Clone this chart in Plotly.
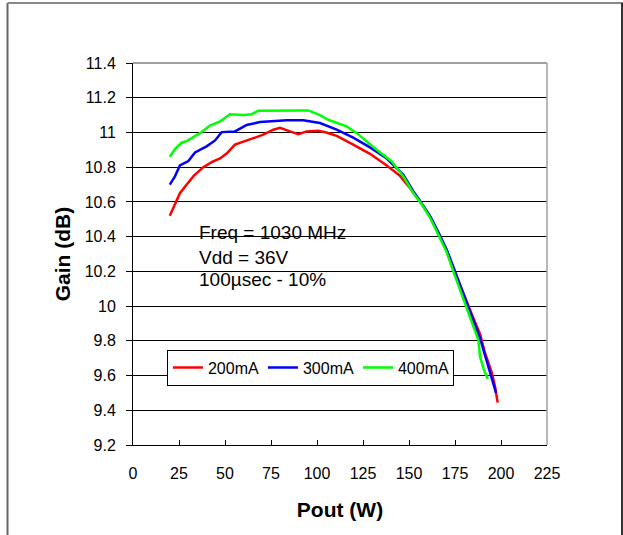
import plotly.graph_objects as go

# ---- data ----
pout_200 = [20, 25.5, 29.2, 33, 38.2, 43, 47.3, 51, 55.4, 61.8, 66, 70.8, 76.3, 79.9, 85.3, 89.9, 94.4,
            100.7, 105, 110.7, 119.7, 128.8, 137.9, 145.1, 150.5, 155.5, 161.4, 166, 170.5, 174.1,
            179.5, 185, 188.6, 191.3, 194.9, 196.7, 198.2]
gain_200 = [10.52, 10.65, 10.70, 10.75, 10.80, 10.83, 10.85, 10.88, 10.93, 10.954, 10.97, 10.987,
            11.016, 11.027, 11.006, 10.99, 11.006, 11.01, 11.0, 10.98, 10.93, 10.877, 10.81, 10.75,
            10.68, 10.61, 10.516, 10.42, 10.32, 10.218, 10.07, 9.93, 9.84, 9.73, 9.62, 9.54, 9.444]

pout_300 = [20, 22.8, 25.5, 30.1, 33.7, 40, 44.6, 48.2, 55.4, 61.8, 69, 78.1, 83.5, 92.5, 101.6,
            110.7, 119.7, 128.8, 137.9, 146.9, 152.4, 157, 161.4, 166, 170.5, 174.1, 179.5, 185,
            188.6, 191.5, 194.5, 197.3]
gain_300 = [10.70, 10.747, 10.81, 10.835, 10.885, 10.92, 10.954, 11.002, 11.006, 11.043, 11.06,
            11.066, 11.07, 11.07, 11.054, 11.016, 10.97, 10.914, 10.85, 10.756, 10.66, 10.59, 10.52,
            10.425, 10.325, 10.225, 10.075, 9.925, 9.815, 9.71, 9.6, 9.50]

pout_400 = [20, 22.8, 26.4, 29.2, 36.4, 41.8, 47.3, 52.7, 60, 64.5, 68.1, 78.1, 95.3, 101.6, 106.1,
            116.1, 121.6, 130.6, 140.6, 146.9, 152.4, 157, 161.4, 166, 170.5, 174.1, 179.5, 184,
            187.7, 188.6, 190.5, 192.8]
gain_400 = [10.86, 10.905, 10.942, 10.95, 10.996, 11.04, 11.063, 11.105, 11.10, 11.105, 11.125,
            11.127, 11.127, 11.10, 11.073, 11.035, 10.996, 10.916, 10.833, 10.747, 10.65, 10.585,
            10.51, 10.41, 10.31, 10.2, 10.04, 9.91, 9.805, 9.71, 9.64, 9.58]

series_names = ["200mA", "300mA", "400mA"]
series_colors = ["#ff0000", "#0000ff", "#00ff00"]

x_ticks = [0, 25, 50, 75, 100, 125, 150, 175, 200, 225]
y_ticks = [9.2, 9.4, 9.6, 9.8, 10.0, 10.2, 10.4, 10.6, 10.8, 11.0, 11.2, 11.4]
y_ticktext = ["9.2", "9.4", "9.6", "9.8", "10", "10.2", "10.4", "10.6", "10.8", "11", "11.2", "11.4"]

note_lines = ["Freq = 1030 MHz", "Vdd = 36V", "100µsec - 10%"]

FONT = "Liberation Sans, Arial, sans-serif"

# ---- figure ----
fig = go.Figure()
for xs, ys, name, col in zip([pout_200, pout_300, pout_400], [gain_200, gain_300, gain_400],
                             series_names, series_colors):
    fig.add_trace(go.Scatter(x=xs, y=ys, mode="lines", name=name,
                             line=dict(color=col, width=2.5)))

fig.update_layout(
    width=623, height=535,
    margin=dict(l=133, r=76, t=63, b=90),
    paper_bgcolor="white", plot_bgcolor="white",
    font=dict(family=FONT, color="black", size=16),
    showlegend=True,
    legend=dict(orientation="h", x=0.082, y=0.25, xanchor="left", yanchor="top",
                bgcolor="white", bordercolor="black", borderwidth=1,
                font=dict(size=16), itemwidth=30, tracegroupgap=0,
                entrywidth=50, entrywidthmode="pixels"),
)

fig.update_xaxes(range=[0, 225], tickvals=x_ticks, ticktext=[str(v) for v in x_ticks],
                 showgrid=False, zeroline=False, showline=True, linecolor="black", linewidth=1,
                 ticks="inside", ticklen=5, tickcolor="black", ticklabelstandoff=14,
                 tickfont=dict(size=16),
                 title=dict(text="<b>Pout (W)</b>", font=dict(size=21), standoff=21))
fig.update_yaxes(range=[9.2, 11.4], tickvals=y_ticks, ticktext=y_ticktext,
                 showgrid=True, gridcolor="black", gridwidth=1, zeroline=False,
                 showline=True, linecolor="black", linewidth=1,
                 ticks="outside", ticklen=6, tickcolor="black", ticklabelstandoff=7,
                 tickfont=dict(size=16),
                 title=dict(text="<b>Gain (dB)</b>", font=dict(size=21), standoff=8))

# annotation box (white, hides gridlines)
fig.add_shape(type="rect", xref="paper", yref="paper", x0=0.1304, x1=0.5556, y0=0.40, y1=0.584,
              fillcolor="white", line=dict(width=0), layer="between")
for txt, yy in zip(note_lines, [0.555, 0.492, 0.432]):
    fig.add_annotation(text=txt, xref="paper", yref="paper", x=0.155, y=yy,
                       xanchor="left", yanchor="middle", showarrow=False,
                       font=dict(size=19, family=FONT, color="black"))

# plot area top/right border (gray)
fig.add_shape(type="line", xref="paper", yref="paper", x0=0, x1=1, y0=1, y1=1,
              line=dict(color="#808080", width=1.5))
fig.add_shape(type="line", xref="paper", yref="paper", x0=1, x1=1, y0=0, y1=1,
              line=dict(color="#a0a0a0", width=1.5))

# outer frame
fig.add_shape(type="line", xref="paper", yref="paper", x0=-0.3031, x1=-0.3031, y0=-0.25, y1=1.157,
              line=dict(color="#666666", width=2))
fig.add_shape(type="line", xref="paper", yref="paper", x0=-0.3031, x1=1.19, y0=1.157, y1=1.157,
              line=dict(color="#888888", width=2))
fig.add_shape(type="line", xref="paper", yref="paper", x0=1.1812, x1=1.1812, y0=-0.25, y1=1.157,
              line=dict(color="#333333", width=2))

fig.write_html("out.html", config={"displayModeBar": False},
               post_script="document.body.style.margin='0';document.body.style.overflow='hidden';")
